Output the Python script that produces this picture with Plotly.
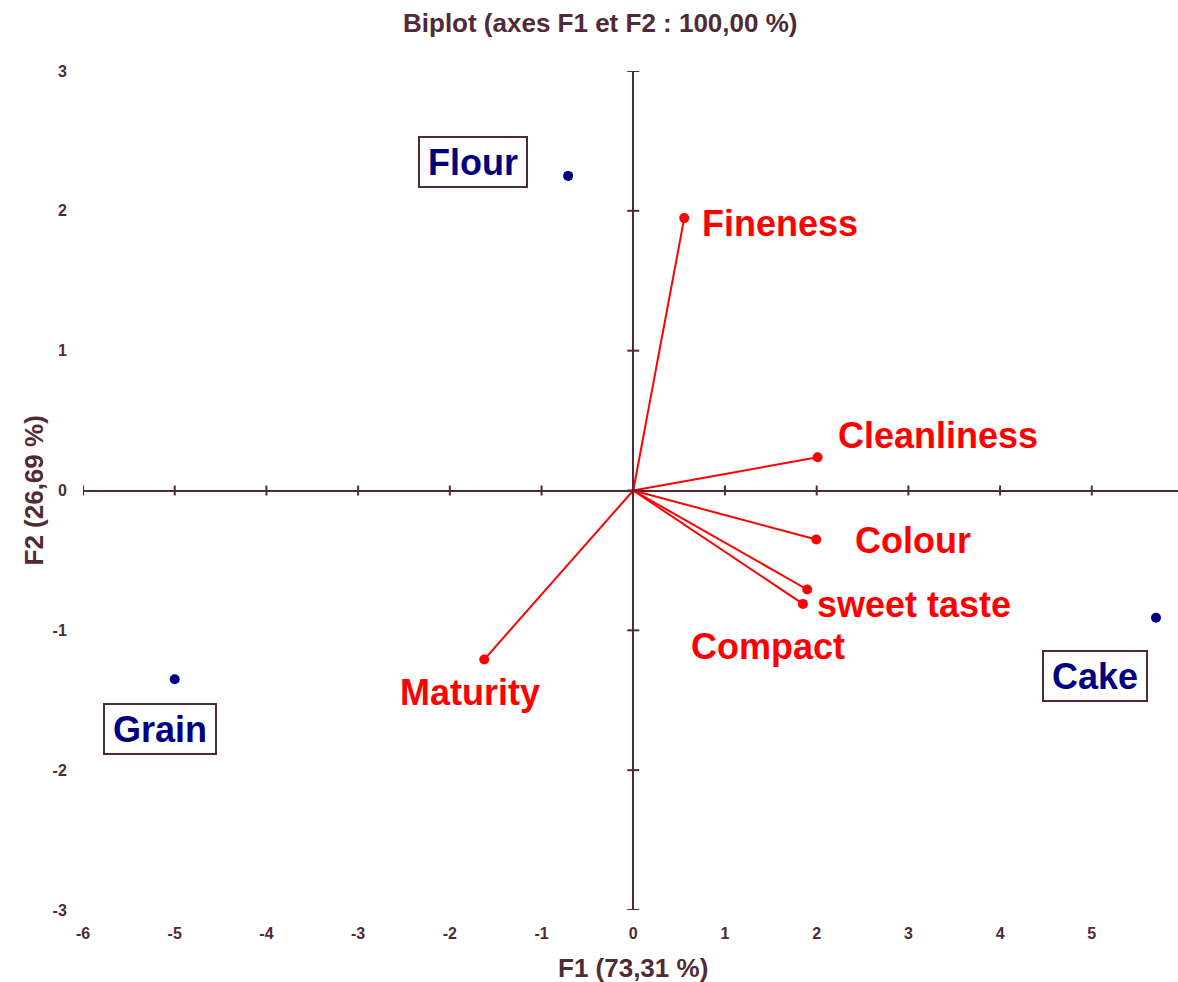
import plotly.graph_objects as go

# Observations (individuals) projected on F1/F2
obs_names = ["Flour", "Grain", "Cake"]
obs_f1 = [-0.71, -5.00, 5.70]
obs_f2 = [2.25, -1.35, -0.91]

# Variables (loadings) on F1/F2
var_names = ["Fineness", "Cleanliness", "Colour", "sweet taste", "Compact", "Maturity"]
var_f1 = [0.556, 2.01, 1.996, 1.897, 1.85, -1.625]
var_f2 = [1.948, 0.238, -0.351, -0.708, -0.811, -1.209]

x_ticks = [-6, -5, -4, -3, -2, -1, 0, 1, 2, 3, 4, 5]
y_ticks = [-3, -2, -1, 0, 1, 2, 3]

AXIS = "#512a35"
RED = "#ff0000"
NAVY = "#000080"
FONT = "Liberation Sans, Arial, sans-serif"

# label placement (pixel offsets from each point)
obs_label_style = {
    "Flour": dict(xshift=-95, yshift=14, width=104, height=46),
    "Grain": dict(xshift=-15, yshift=-50, width=108, height=46),
    "Cake": dict(xshift=-61, yshift=-58, width=100, height=46),
}
var_label_style = {
    "Fineness": dict(xanchor="left", xshift=16, yshift=-5),
    "Cleanliness": dict(xanchor="left", xshift=18, yshift=22),
    "Colour": dict(xanchor="left", xshift=37, yshift=-1),
    "sweet taste": dict(xanchor="left", xshift=8, yshift=-15),
    "Compact": dict(xanchor="center", xshift=-35, yshift=-43),
    "Maturity": dict(xanchor="center", xshift=-14, yshift=-33),
}

fig = go.Figure()

# loading vectors from the origin
lx, ly = [], []
for a, b in zip(var_f1, var_f2):
    lx += [0, a, None]
    ly += [0, b, None]
fig.add_trace(go.Scatter(x=lx, y=ly, mode="lines",
                         line=dict(color=RED, width=2), hoverinfo="skip"))
fig.add_trace(go.Scatter(x=var_f1, y=var_f2, mode="markers", text=var_names,
                         marker=dict(color=RED, size=10)))
fig.add_trace(go.Scatter(x=obs_f1, y=obs_f2, mode="markers", text=obs_names,
                         marker=dict(color=NAVY, size=10)))

annotations = []
for n, a, b in zip(var_names, var_f1, var_f2):
    s = var_label_style[n]
    annotations.append(dict(x=a, y=b, xref="x", yref="y", text=f"<b>{n}</b>",
                            showarrow=False, xanchor=s["xanchor"], yanchor="middle",
                            xshift=s["xshift"], yshift=s["yshift"],
                            font=dict(family=FONT, size=36, color=RED)))
for n, a, b in zip(obs_names, obs_f1, obs_f2):
    s = obs_label_style[n]
    annotations.append(dict(x=a, y=b, xref="x", yref="y", text=f"<b>{n}</b>",
                            showarrow=False, xanchor="center", yanchor="middle",
                            xshift=s["xshift"], yshift=s["yshift"],
                            width=s["width"], height=s["height"],
                            bordercolor=AXIS, borderwidth=2, borderpad=1,
                            bgcolor="white",
                            font=dict(family=FONT, size=36, color=NAVY)))

# chart title and axis titles
annotations.append(dict(x=0.472, y=1, xref="paper", yref="paper", yshift=48,
                        text="<b>Biplot (axes F1 et F2 : 100,00 %)</b>", showarrow=False,
                        xanchor="center", yanchor="middle",
                        font=dict(family=FONT, size=26, color=AXIS)))
annotations.append(dict(x=0, y=0, xref="x", yref="paper", yshift=-58,
                        text="<b>F1 (73,31 %)</b>", showarrow=False,
                        xanchor="center", yanchor="middle",
                        font=dict(family=FONT, size=26, color=AXIS)))
annotations.append(dict(x=0, y=0, xref="paper", yref="y", xshift=-50,
                        text="<b>F2 (26,69 %)</b>", showarrow=False, textangle=-90,
                        xanchor="center", yanchor="middle",
                        font=dict(family=FONT, size=26, color=AXIS)))

# tick marks crossing the axes at the origin
shapes = []
for t in x_ticks:
    shapes.append(dict(type="line", xref="x", yref="y", x0=t, x1=t,
                       ysizemode="pixel", yanchor=0, y0=-5, y1=5,
                       line=dict(color=AXIS, width=2)))
for t in y_ticks:
    shapes.append(dict(type="line", xref="x", yref="y", y0=t, y1=t,
                       xsizemode="pixel", xanchor=0, x0=-6, x1=6,
                       line=dict(color=AXIS, width=2)))

fig.update_layout(
    width=1178, height=982,
    margin=dict(l=83, r=0, t=71, b=72),
    plot_bgcolor="white", paper_bgcolor="white",
    showlegend=False,
    annotations=annotations,
    shapes=shapes,
    xaxis=dict(range=[-6, 5.94], showgrid=False, zeroline=True,
               zerolinecolor=AXIS, zerolinewidth=2, showline=False,
               tickvals=x_ticks, ticktext=[f"<b>{t}</b>" for t in x_ticks],
               ticks="outside", ticklen=9, tickcolor="rgba(0,0,0,0)",
               tickfont=dict(family=FONT, size=16, color=AXIS)),
    yaxis=dict(range=[-3, 3], showgrid=False, zeroline=True,
               zerolinecolor=AXIS, zerolinewidth=2, showline=False,
               tickvals=y_ticks, ticktext=[f"<b>{t}</b>" for t in y_ticks],
               ticks="outside", ticklen=12, tickcolor="rgba(0,0,0,0)",
               tickfont=dict(family=FONT, size=16, color=AXIS)),
)

fig.write_html("out.html")
